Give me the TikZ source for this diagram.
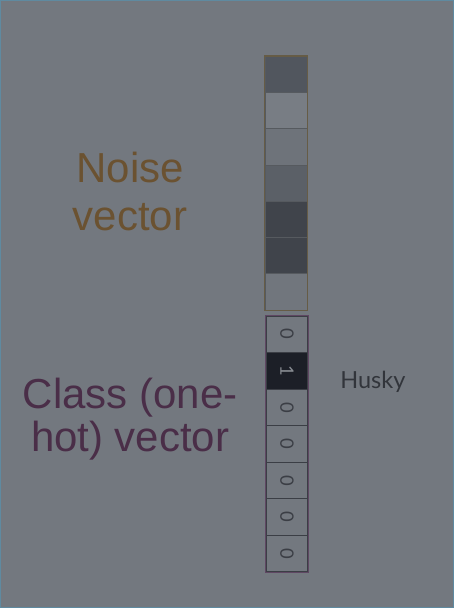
\documentclass[tikz,border=0pt]{standalone}
\usepackage{fontspec}
\setmainfont{Liberation Sans}
\newfontfamily\latofont{Lato}
\usetikzlibrary{positioning}
\definecolor{bgGray}{HTML}{73787F}
\definecolor{frameBlue}{HTML}{5F8AA0}
\definecolor{noiseBrown}{HTML}{6B5231}
\definecolor{noiseEdge}{HTML}{665C46}
\definecolor{classPurple}{HTML}{4A2E48}
\definecolor{classEdge}{HTML}{5F4763}
\definecolor{cellLine}{HTML}{3B3E45}
\definecolor{hotFill}{HTML}{1C1F27}
\tikzstyle{noisecell} = [draw=bgGray!75!black, line width=0.5pt, rectangle,
minimum height=36.3*0.02cm, minimum width=42*0.02cm, inner sep=0]
\tikzstyle{classcell} = [draw=cellLine, line width=0.6pt, rectangle,
minimum height=36.6*0.02cm, minimum width=42*0.02cm, inner sep=0,
font=\latofont\fontsize{10.5}{11}\selectfont, text=cellLine]
\tikzstyle{biglabel} = [align=center, font=\fontsize{23.9}{27.3}\selectfont]

\begin{document}
\begin{tikzpicture}[x=0.02cm, y=-0.02cm]
    % background and thin frame
    \fill[bgGray] (0,0) rectangle (454,608);
    \draw[frameBlue, line width=0.6pt] (0.3,0.3) rectangle (453.7,607.7);
    \useasboundingbox (0,0) rectangle (454,608);

    % noise vector cells, top to bottom
    \foreach \i/\shade in {1/51565E, 2/787D84, 3/6E737A, 4/5B6067, 5/40444B, 6/40444B, 7/71767D} {
        \definecolor{cellShade}{HTML}{\shade}
        \node[noisecell, fill=cellShade] (noise\i) at (286, 56+36.3*\i-18.15) {};
    }
    \draw[noiseEdge, line width=1pt] (noise1.north west) rectangle (noise7.south east);

    % class (one-hot) vector cells
    \foreach \i/\bit in {1/0, 2/1, 3/0, 4/0, 5/0, 6/0, 7/0} {
        \node[classcell] (class\i) at (287, 316+36.6*\i-18.3) {\rotatebox{-90}{\bit}};
    }
    \node[classcell, fill=hotFill, text=bgGray!85!white] at (class2) {\rotatebox{-90}{1}};
    \draw[classEdge, line width=1pt] (class1.north west) rectangle (class7.south east);

    % labels
    \node[biglabel, text=noiseBrown, anchor=base] (noiseText) at (130,230) {Noise\\vector};
    \node[biglabel, text=classPurple, anchor=base,
      font=\fontsize{23.9}{24.5}\selectfont] (classText) at (130,452) {Class (one-\\hot) vector};
    \node[anchor=base west, inner sep=0, text=cellLine!85!black,
      font=\latofont\fontsize{13.4}{15}\selectfont] (husky) at (340,389) {Husky};
\end{tikzpicture}
\end{document}
